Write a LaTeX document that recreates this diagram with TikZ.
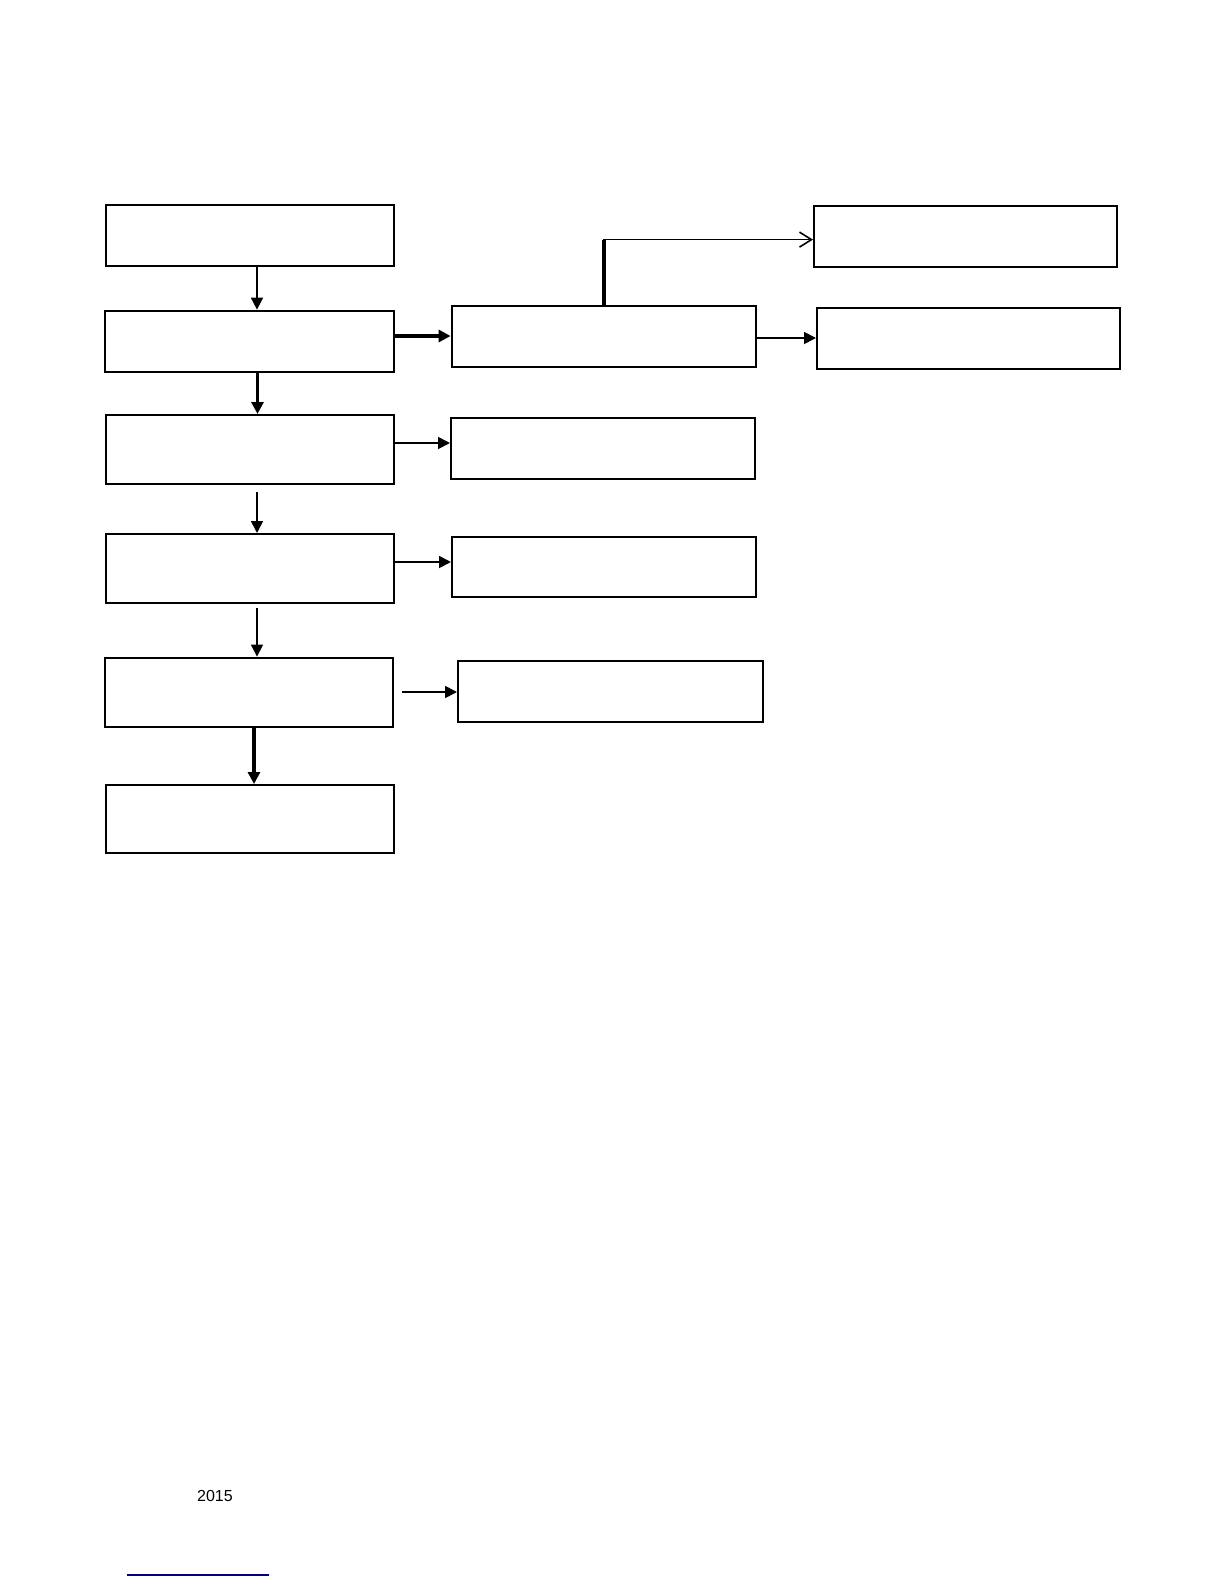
\documentclass[tikz,border=0pt]{standalone}
\usepackage{fontspec}
\setmainfont{Liberation Sans}
\usetikzlibrary{positioning,arrows.meta,calc}
\tikzset{
    flowbox/.style={draw, rectangle, inner sep=0pt, line width=1pt},
    flowboxbold/.style={flowbox, line width=1.4pt},
    flowarrow/.style={draw, -{Triangle[length=6pt, width=6pt]}, line width=0.9pt},
    flowarrowbold/.style={flowarrow, line width=1.6pt},
    flowopen/.style={draw, -{Straight Barb[length=6pt, width=7.5pt]}, line width=0.8pt},
    footnoteline/.style={draw, line width=0.6pt, color=blue!50!black}
}

\begin{document}
\begin{tikzpicture}[x=0.5pt, y=-0.5pt]
    \useasboundingbox (0,0) rectangle (1224,1584);
    % left column
    \node[flowbox, minimum width=144pt, minimum height=30.5pt] (start) at (250,235.5) {};
    \node[flowboxbold, minimum width=144.5pt, minimum height=30.5pt] (intake) at (249.5,341.5) {};
    \node[flowbox, minimum width=144pt, minimum height=34.5pt] (review) at (250,449.5) {};
    \node[flowbox, minimum width=144pt, minimum height=34.5pt] (assess) at (250,568.5) {};
    \node[flowboxbold, minimum width=144pt, minimum height=34.5pt] (decide) at (249,692.5) {};
    \node[flowbox, minimum width=144pt, minimum height=34pt] (close) at (250,819) {};
    % middle column
    \node[flowboxbold, minimum width=152pt, minimum height=30.5pt] (route) at (604,336.5) {};
    \node[flowbox, minimum width=152pt, minimum height=30.5pt] (reviewout) at (603,448.5) {};
    \node[flowbox, minimum width=152pt, minimum height=30pt] (assessout) at (604,567) {};
    \node[flowbox, minimum width=152.5pt, minimum height=30.5pt] (decideout) at (610.5,691.5) {};
    % right column
    \node[flowbox, minimum width=151.5pt, minimum height=30.5pt] (upper) at (965.5,236.5) {};
    \node[flowbox, minimum width=151.5pt, minimum height=30.5pt] (lower) at (968.5,338.5) {};

    \coordinate (bend) at ($(route.north)+(0,-65)$);

    \draw[flowarrow] ($(start.south)+(7,0)$) -- ($(intake.north)+(7.5,0)$);
    \draw[flowarrowbold] ($(intake.south)+(8,0)$) -- ($(review.north)+(7.5,0)$);
    \draw[flowarrow, shorten <=3.5pt] ($(review.south)+(7,0)$) -- ($(assess.north)+(7,0)$);
    \draw[flowarrow, line width=0.6pt, shorten <=2pt] ($(assess.south)+(7,0)$) -- ($(decide.north)+(8,0)$);
    \draw[flowarrowbold] ($(decide.south)+(5,0)$) -- ($(close.north)+(4,0)$);

    \draw[flowarrowbold] (intake.east |- 0,336) -- (route.west |- 0,336);
    \draw[flowarrow] (review.east |- 0,443) -- (reviewout.west |- 0,443);
    \draw[flowarrow] (assess.east |- 0,562) -- (assessout.west |- 0,562);
    \draw[flowarrow, shorten <=4pt] (decide.east |- 0,692) -- (decideout.west |- 0,692);

    \draw[flowopen] (route.north) -- (bend) -- (upper.west |- bend);
    \draw[line width=1.6pt] (route.north) -- (bend);
    \draw[flowarrow] (route.east |- 0,338) -- (lower.west |- 0,338);

    % footer
    \node[font=\fontsize{8}{9.6}\selectfont] (year) at (215,1495.5) {2015};
    \coordinate (ruleleft) at (126.5,1575);
    \coordinate (ruleright) at (269,1575);
    \draw[footnoteline] (ruleleft) -- (ruleright);
\end{tikzpicture}
\end{document}
